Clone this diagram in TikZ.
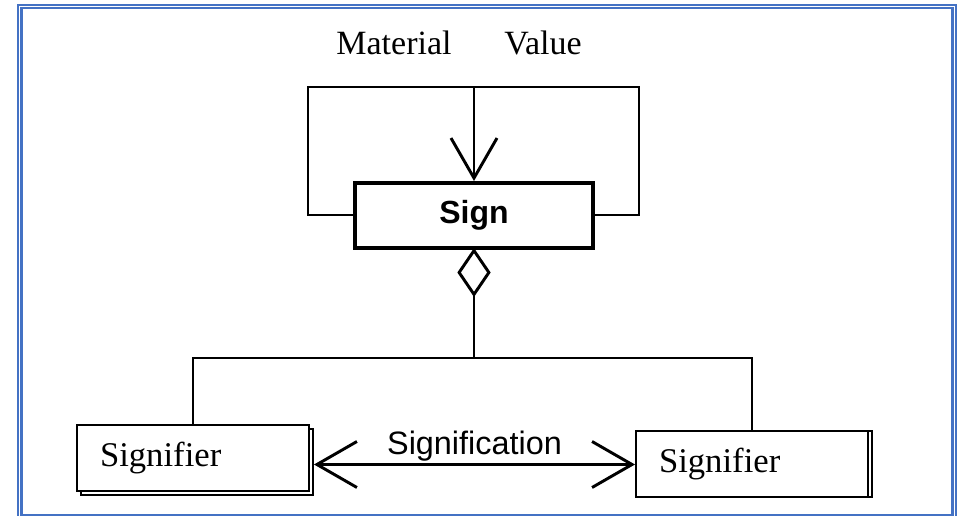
\documentclass[tikz,border=0pt]{standalone}
\usepackage{fontspec}
\setmainfont{Liberation Serif}
\setsansfont{Liberation Sans}
\usetikzlibrary{arrows.meta,positioning,shadows}
\definecolor{frameblue}{HTML}{4472C4}

\begin{document}
\begin{tikzpicture}[x=0.75pt,y=-0.75pt,>={Straight Barb[length=30pt,width=34.5pt]},
               line width=1.9pt,
               class node/.style={draw,fill=white,line width=3pt,minimum width=178.5pt,minimum height=48.75pt,
                 font=\sffamily\bfseries\fontsize{24}{28}\selectfont},
               sig node/.style={draw,fill=white,line width=1.5pt,text width=139.5pt,inner xsep=17.25pt,
                 minimum height=49.5pt,align=left,font=\fontsize{26}{30}\selectfont},
               role/.style={anchor=base,font=\fontsize{25.5}{30}\selectfont}]
  \useasboundingbox (0,0) rectangle (958,516);
  \draw[frameblue,line width=1.6pt] (18,5) rectangle (956,519);
  \draw[frameblue,line width=1.6pt] (21.5,8) rectangle (952.5,514.8);

  \node[class node] (sign) at (474,215.5) {Sign};
  \node[sig node,copy shadow={shadow xshift=3pt,shadow yshift=-3pt}] (sr1) at (193,458.5) {Signifier};
  \node[sig node,copy shadow={shadow xshift=3pt,shadow yshift=0pt}] (sr2) at (752,464.5) {Signifier};
  \node[role] (mat) at (394,55) {Material};
  \node[role] (val) at (543,55) {Value};

  \coordinate (top) at (474,87);
  \coordinate (ml) at (308,87);
  \coordinate (vr) at (639,87);
  \coordinate (bar) at (474,358);

  \draw[line width=1.5pt] (sign.west) -| (ml) -- (vr) |- (sign.east);
  \draw[->,line width=2.2pt] (top) -- (sign.north);
  \draw[{Diamond[open,length=36.75pt,width=25pt]}-,shorten <=-1.5pt,line width=2.2pt] (sign.south) -- (bar);
  \draw[line width=1.5pt] (sr1.north) |- (bar) -| (sr2.north);
  \draw[<->,line width=2.2pt] ([xshift=3pt]sr1.east |- sr2.west) -- (sr2.west)
    node[midway,above,inner sep=1pt,font=\sffamily\fontsize{24.3}{28}\selectfont] {Signification};
\end{tikzpicture}
\end{document}
